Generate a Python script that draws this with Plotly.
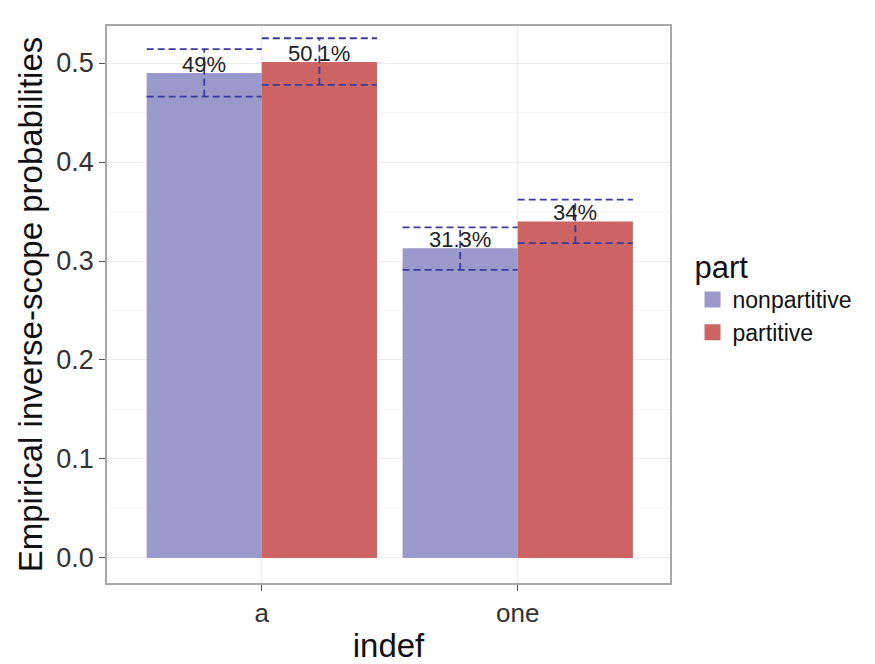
import plotly.graph_objects as go

categories = ["a", "one"]
groups = ["nonpartitive", "partitive"]
values = {
    "nonpartitive": [0.490, 0.313],
    "partitive": [0.501, 0.340],
}
ci_low = {
    "nonpartitive": [0.466, 0.291],
    "partitive": [0.478, 0.318],
}
ci_high = {
    "nonpartitive": [0.514, 0.334],
    "partitive": [0.525, 0.362],
}
labels = {
    "nonpartitive": ["49%", "31.3%"],
    "partitive": ["50.1%", "34%"],
}
colors = {"nonpartitive": "#9a99cb", "partitive": "#cc6464"}
yticks = [0.0, 0.1, 0.2, 0.3, 0.4, 0.5]

font = "Liberation Sans, Arial, sans-serif"
bw = 0.45
offsets = {"nonpartitive": -bw / 2, "partitive": bw / 2}
xpos = [1, 2]

fig = go.Figure()
for g in groups:
    fig.add_trace(go.Bar(
        x=xpos, y=values[g], name=g, width=bw, offset=offsets[g] - bw / 2,
        marker=dict(color=colors[g], line=dict(width=0)),
        showlegend=False,
    ))
    # legend swatch
    fig.add_trace(go.Scatter(
        x=[None], y=[None], mode="markers", name=g,
        marker=dict(symbol="square", size=25, color=colors[g]),
        showlegend=True, hoverinfo="skip",
    ))

err_color = "#3b3b9e"
annotations = []
for g in groups:
    for i, xc in enumerate(xpos):
        cx = xc + offsets[g]
        lo, hi = ci_low[g][i], ci_high[g][i]
        for yy in (lo, hi):
            fig.add_trace(go.Scatter(
                x=[cx - bw / 2, cx + bw / 2], y=[yy, yy], mode="lines",
                line=dict(color=err_color, width=1.8, dash="7px,4px"),
                showlegend=False, hoverinfo="skip",
            ))
        fig.add_trace(go.Scatter(
            x=[cx, cx], y=[lo, hi], mode="lines",
            line=dict(color=err_color, width=1.8, dash="7px,4px"),
            showlegend=False, hoverinfo="skip",
        ))
        annotations.append(dict(
            x=cx, y=values[g][i], xref="x", yref="y", text=labels[g][i],
            showarrow=False, yanchor="bottom", xanchor="center", yshift=-6,
            font=dict(family=font, size=22, color="#222222"),
        ))

fig.update_layout(
    width=875, height=664,
    margin=dict(l=107, r=205, t=26, b=81),
    paper_bgcolor="white", plot_bgcolor="white",
    font=dict(family=font, color="#222222"),
    showlegend=True,
    annotations=annotations,
    legend=dict(
        title=dict(text="part", font=dict(size=31, color="#111111")),
        font=dict(size=23, color="#111111"),
        x=1.04, xanchor="left", y=0.62, yanchor="top",
        traceorder="normal", itemsizing="trace", tracegroupgap=0,
        bgcolor="rgba(0,0,0,0)",
    ),
    xaxis=dict(
        range=[0.395, 2.595], tickvals=xpos, ticktext=categories,
        title=dict(text="indef", font=dict(size=33, color="#111111")),
        automargin=False,
        tickfont=dict(size=26, color="#333333"),
        ticks="outside", ticklen=6, tickcolor="#555555",
        showgrid=True, gridcolor="#ececec", gridwidth=1,
        showline=True, linecolor="#a8a8a8", linewidth=1.5, mirror=True,
        zeroline=False,
    ),
    yaxis=dict(
        range=[-0.0253, 0.5374], tickvals=yticks,
        ticktext=[f"{v:.1f}" for v in yticks],
        title=dict(text="Empirical inverse-scope probabilities",
                   font=dict(size=33, color="#111111"), standoff=4),
        tickfont=dict(size=27, color="#333333"),
        ticks="outside", ticklen=6, tickcolor="#555555",
        showgrid=True, gridcolor="#ececec", gridwidth=1,
        minor=dict(dtick=0.05, tick0=0.05, showgrid=True, gridcolor="#f6f6f6", gridwidth=1),
        showline=True, linecolor="#a8a8a8", linewidth=1.5, mirror=True,
        zeroline=False,
    ),
)

fig.write_html("out.html")
